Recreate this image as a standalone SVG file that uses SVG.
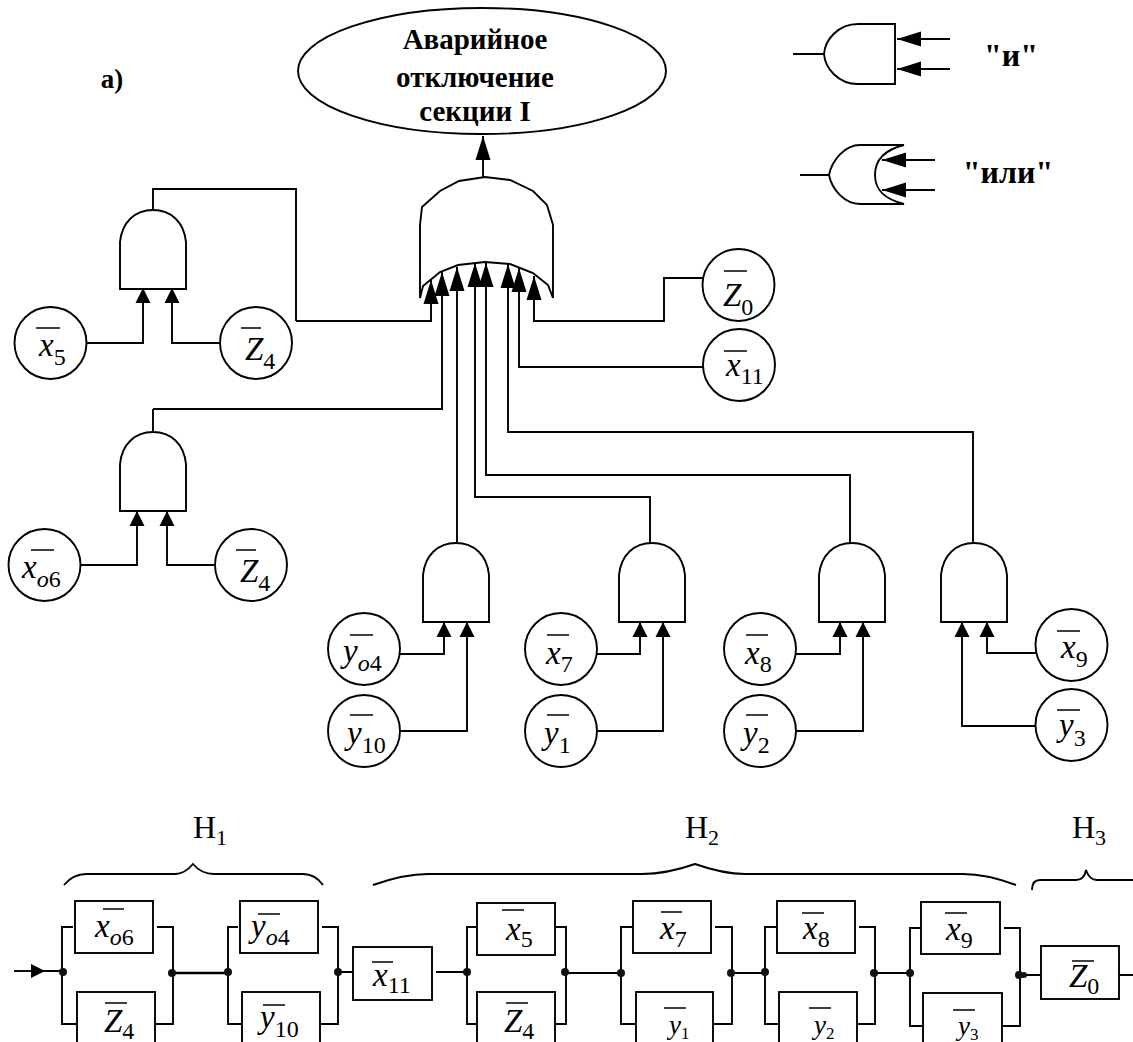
<svg xmlns="http://www.w3.org/2000/svg" xmlns:xlink="http://www.w3.org/1999/xlink" width="1133" height="1042" viewBox="0 0 1133 1042">
<style>
.l{fill:none;stroke:#000;stroke-width:1.9}
.b{fill:#fff;stroke:#000;stroke-width:1.9}
.o{stroke:#000;stroke-width:1.5}
.d{fill:#111}
text{font-family:"Liberation Serif","Times New Roman",serif;fill:#000}
.v{font-size:33px;font-style:italic}
.s{font-size:24px;font-style:normal}
.i{font-style:italic}
.t{font-size:29px;font-weight:bold;text-anchor:middle}
.q{font-size:32px;font-weight:bold;text-anchor:middle}
.h{font-size:32px}
.hs{font-size:22px}
.v2{font-size:27px;font-style:italic}
.s2{font-size:17px;font-style:normal}
.a{marker-end:url(#sm)}
.m{marker-end:url(#big)}
</style>
<defs>
<marker id="sm" markerUnits="userSpaceOnUse" markerWidth="16" markerHeight="16" refX="15" refY="8" orient="auto"><path d="M0 0.500L15 8L0 15.500Z"/></marker>
<marker id="big" markerUnits="userSpaceOnUse" markerWidth="24" markerHeight="16" refX="24" refY="8" orient="auto"><path d="M0 0.500L24 8L0 15.500Z"/></marker>
<marker id="in" markerUnits="userSpaceOnUse" markerWidth="14" markerHeight="14" refX="14" refY="7" orient="auto"><path d="M0 0L14 7L0 14Z"/></marker>
<path id="g" class="l" d="M0 79V32C2 12 15 0 33 0C51 0 64 12 66 32V79Z"/>
</defs>
<g id="connectors">
<path class="l a" d="M86 343H143V288"/>
<path class="l a" d="M220 343H172V288"/>
<path class="l" d="M153 210V189H296V321"/>
<path class="l m" d="M296 321H431V280"/>
<path class="l" d="M153 432V409"/>
<path class="l m" d="M153 409H442V272"/>
<path class="l a" d="M81 565H137V511"/>
<path class="l a" d="M215 565H167V511"/>
<path class="l m" d="M457 544V267"/>
<path class="l m" d="M650 544V497H475V263"/>
<path class="l m" d="M850 544V475H486V263"/>
<path class="l m" d="M973 544V432H508V264"/>
<path class="l m" d="M704 367H519V268"/>
<path class="l m" d="M704 278H664V321H534V276"/>
<path class="l a" d="M400 654H444V622"/>
<path class="l a" d="M400 731H467V622"/>
<path class="l a" d="M597 654H640V622"/>
<path class="l a" d="M597 731H663V622"/>
<path class="l a" d="M796 654H840V622"/>
<path class="l a" d="M796 731H863V622"/>
<path class="l a" d="M1036 653H987V622"/>
<path class="l a" d="M1036 726H962V622"/>
<path class="l" d="M483 177V164"/>
<path class="l m" d="M483 164V136"/>
<!-- bottom chain -->
<path class="l" d="M14 971H45" marker-end="url(#in)"/>
<path class="l" d="M45 971H62M73 927H62V1024H76M157 927H173V1024H155M238 927H228V1024H241M322 927H338V1024H320M338 972H353M436 972H467M477 927H467V1024H477M555 927H566V1024H555M566 973H621M632 927H621V1024H635M715 927H732V1024H714M732 973H765M776 927H765V1024H779M859 927H875V1024H857M875 973H910M921 928H910V1026H923M1004 928H1020V1026H1002M1020 975H1041M1119 975H1133"/>
<path class="l" style="stroke-width:2.6" d="M173 973H228"/>
<circle class="d" cx="63" cy="972" r="4"/><circle class="d" cx="172" cy="973" r="4"/><circle class="d" cx="228" cy="972" r="4"/><circle class="d" cx="338" cy="972" r="4"/><circle class="d" cx="467" cy="972" r="4"/><circle class="d" cx="565" cy="972" r="4"/><circle class="d" cx="621" cy="973" r="4"/><circle class="d" cx="731" cy="973" r="4"/><circle class="d" cx="765" cy="972" r="4"/><circle class="d" cx="874" cy="973" r="4"/><circle class="d" cx="910" cy="973" r="4"/><circle class="d" cx="1019" cy="975" r="4"/><circle class="d" cx="1024" cy="975" r="3"/>
</g>
<g id="top-event"><ellipse class="b" cx="482" cy="71" rx="184" ry="63"/>
<text class="t" x="475" y="49">Аварийное</text><text class="t" x="475" y="87">отключение</text><text class="t" x="475" y="121">секции I</text></g>
<g id="label-a"><text x="112" y="88" style="font-size:27px;font-weight:bold;text-anchor:middle">а)</text></g>
<g id="legend-and">
<path class="l" d="M793 54H824C825 40 838 24 858 24H895V84H858C838 84 825 68 824 54Z"/>
<path class="l" d="M950 39H897" style="marker-end:url(#big)"/><path class="l" d="M950 69H897" style="marker-end:url(#big)"/>
<text class="q" x="1011" y="66">"и"</text></g>
<g id="legend-or">
<path class="l" d="M800 175H829C832 160 845 145 860 145H904C884 150 875 160 875 175C875 190 884 199 904 204H860C845 204 832 190 829 175"/>
<path class="l" d="M935 160H882" style="marker-end:url(#big)"/><path class="l" d="M935 190H882" style="marker-end:url(#big)"/>
<text class="q" x="1008" y="183">"или"</text></g>
<g id="main-gate"><path class="l" d="M420 298V225L422 207L440 191L459 181L485 177L510 180L533 191L547 205L553 225V298L548 285L533 273L510 264L485 262L458 265L440 272L423 286Z"/></g>
<g id="and-1"><use xlink:href="#g" href="#g" x="120" y="210"/></g>
<g id="and-2"><use xlink:href="#g" href="#g" x="120" y="432"/></g>
<g id="and-3"><use xlink:href="#g" href="#g" x="423" y="543"/></g>
<g id="and-4"><use xlink:href="#g" href="#g" x="619" y="543"/></g>
<g id="and-5"><use xlink:href="#g" href="#g" x="819" y="543"/></g>
<g id="and-6"><use xlink:href="#g" href="#g" x="941" y="543"/></g>

<g id="c-x5"><circle class="b" cx="50.500" cy="343" r="36"/><path class="o" d="M36 328H60"/><text class="v" x="39" y="356">x<tspan class="s" dy="9">5</tspan></text></g>
<g id="c-z4a"><circle class="b" cx="256" cy="343" r="36"/><path class="o" d="M241 328H261"/><text class="v" x="245" y="360">Z<tspan class="s" dy="9">4</tspan></text></g>
<g id="c-xo6"><circle class="b" cx="44.500" cy="565" r="36"/><path class="o" d="M31 550H54"/><text class="v" x="22" y="578">x<tspan class="s" dy="9"><tspan class="i">o</tspan>6</tspan></text></g>
<g id="c-z4b"><circle class="b" cx="251" cy="565" r="36"/><path class="o" d="M236 550H256"/><text class="v" x="240" y="582">Z<tspan class="s" dy="9">4</tspan></text></g>
<g id="c-z0"><circle class="b" cx="738.500" cy="285" r="36"/><path class="o" d="M724 271H747"/><text class="v" x="723" y="306">Z<tspan class="s" dy="9">0</tspan></text></g>
<g id="c-x11"><circle class="b" cx="739" cy="365" r="36"/><path class="o" d="M724 351H747"/><text class="v" x="726" y="376">x<tspan class="s" dy="8">11</tspan></text></g>
<g id="c-yo4"><circle class="b" cx="364" cy="649" r="36"/><path class="o" d="M350 635H373"/><text class="v" x="343" y="662">y<tspan class="s" dy="9"><tspan class="i">o</tspan>4</tspan></text></g>
<g id="c-y10"><circle class="b" cx="364" cy="731" r="36"/><path class="o" d="M350 715H373"/><text class="v" x="347" y="744">y<tspan class="s" dy="9">10</tspan></text></g>
<g id="c-x7"><circle class="b" cx="561" cy="649" r="36"/><path class="o" d="M547 635H569"/><text class="v" x="546" y="664">x<tspan class="s" dy="8">7</tspan></text></g>
<g id="c-y1"><circle class="b" cx="561" cy="731" r="36"/><path class="o" d="M547 715H569"/><text class="v" x="544" y="744">y<tspan class="s" dy="9">1</tspan></text></g>
<g id="c-x8"><circle class="b" cx="760" cy="649" r="36"/><path class="o" d="M746 635H768"/><text class="v" x="745" y="664">x<tspan class="s" dy="8">8</tspan></text></g>
<g id="c-y2"><circle class="b" cx="760" cy="731" r="36"/><path class="o" d="M746 715H768"/><text class="v" x="743" y="744">y<tspan class="s" dy="9">2</tspan></text></g>
<g id="c-x9"><circle class="b" cx="1071.500" cy="645" r="36"/><path class="o" d="M1057 631H1080"/><text class="v" x="1061" y="658">x<tspan class="s" dy="9">9</tspan></text></g>
<g id="c-y3"><circle class="b" cx="1071.500" cy="725" r="36"/><path class="o" d="M1057 710H1080"/><text class="v" x="1059" y="736">y<tspan class="s" dy="10">3</tspan></text></g>

<g id="braces">
<path class="l" d="M64 885C70 878 76 874 86 874H175C183 874 188 870 193 864C198 870 204 874 214 874H303C312 874 318 878 323 885"/>
<path class="l" d="M373 885C390 879 410 874 428 874H642C660 874 678 870 695 864C712 870 728 874 745 874H963C982 874 1000 879 1016 885"/>
<path class="l" d="M1032 890C1032 884 1034 880 1040 880H1076C1082 880 1085 876 1086 870C1088 876 1091 880 1097 880H1133"/>
</g>
<g id="h-labels">
<text class="h" x="193" y="838">Н<tspan class="hs" dy="7">1</tspan></text>
<text class="h" x="685" y="838">Н<tspan class="hs" dy="7">2</tspan></text>
<text class="h" x="1072" y="838">Н<tspan class="hs" dy="7">3</tspan></text>
</g>
<g id="b-xo6"><rect class="b" x="75" y="901" width="78" height="52"/><path class="o" d="M103 909H124"/><text class="v" x="95" y="937">x<tspan class="s" dy="8"><tspan class="i">o</tspan>6</tspan></text></g>
<g id="b-z4a"><rect class="b" x="77" y="992" width="78" height="54"/><path class="o" d="M105 1003H127"/><text class="v" x="104" y="1032">Z<tspan class="s" dy="7">4</tspan></text></g>
<g id="b-yo4"><rect class="b" x="240" y="901" width="78" height="52"/><path class="o" d="M258 914H280"/><text class="v" x="251" y="937">y<tspan class="s" dy="8"><tspan class="i">o</tspan>4</tspan></text></g>
<g id="b-y10"><rect class="b" x="242" y="992" width="78" height="54"/><path class="o" d="M263 1005H285"/><text class="v" x="260" y="1028">y<tspan class="s" dy="9">10</tspan></text></g>
<g id="b-x11"><rect class="b" x="353" y="947" width="79" height="53"/><path class="o" d="M372 962H393"/><text class="v" x="373" y="986">x<tspan class="s" dy="7">11</tspan></text></g>
<g id="b-x5"><rect class="b" x="477" y="903" width="78" height="52"/><path class="o" d="M502 910H524"/><text class="v" x="506" y="940">x<tspan class="s" dy="7">5</tspan></text></g>
<g id="b-z4c"><rect class="b" x="477" y="992" width="78" height="54"/><path class="o" d="M506 1003H528"/><text class="v" x="504" y="1032">Z<tspan class="s" dy="7">4</tspan></text></g>
<g id="b-x7"><rect class="b" x="633" y="901" width="78" height="52"/><path class="o" d="M661 912H682"/><text class="v" x="660" y="939">x<tspan class="s" dy="8">7</tspan></text></g>
<g id="b-y1"><rect class="b" x="636" y="992" width="77" height="54"/><path class="o" d="M664 1008H686"/><text class="v2" x="669" y="1034">y<tspan class="s2" dy="5">1</tspan></text></g>
<g id="b-x8"><rect class="b" x="777" y="901" width="78" height="52"/><path class="o" d="M802 913H824"/><text class="v" x="803" y="939">x<tspan class="s" dy="8">8</tspan></text></g>
<g id="b-y2"><rect class="b" x="779" y="992" width="78" height="54"/><path class="o" d="M809 1008H831"/><text class="v2" x="814" y="1034">y<tspan class="s2" dy="5">2</tspan></text></g>
<g id="b-x9"><rect class="b" x="921" y="902" width="79" height="52"/><path class="o" d="M945 913H967"/><text class="v" x="946" y="940">x<tspan class="s" dy="8">9</tspan></text></g>
<g id="b-y3"><rect class="b" x="923" y="993" width="79" height="54"/><path class="o" d="M953 1010H975"/><text class="v2" x="958" y="1035">y<tspan class="s2" dy="5">3</tspan></text></g>
<g id="b-z0"><rect class="b" x="1041" y="946" width="78" height="53"/><path class="o" d="M1072 961H1094"/><text class="v" x="1069" y="987">Z<tspan class="s" dy="7">0</tspan></text></g>
</svg>
